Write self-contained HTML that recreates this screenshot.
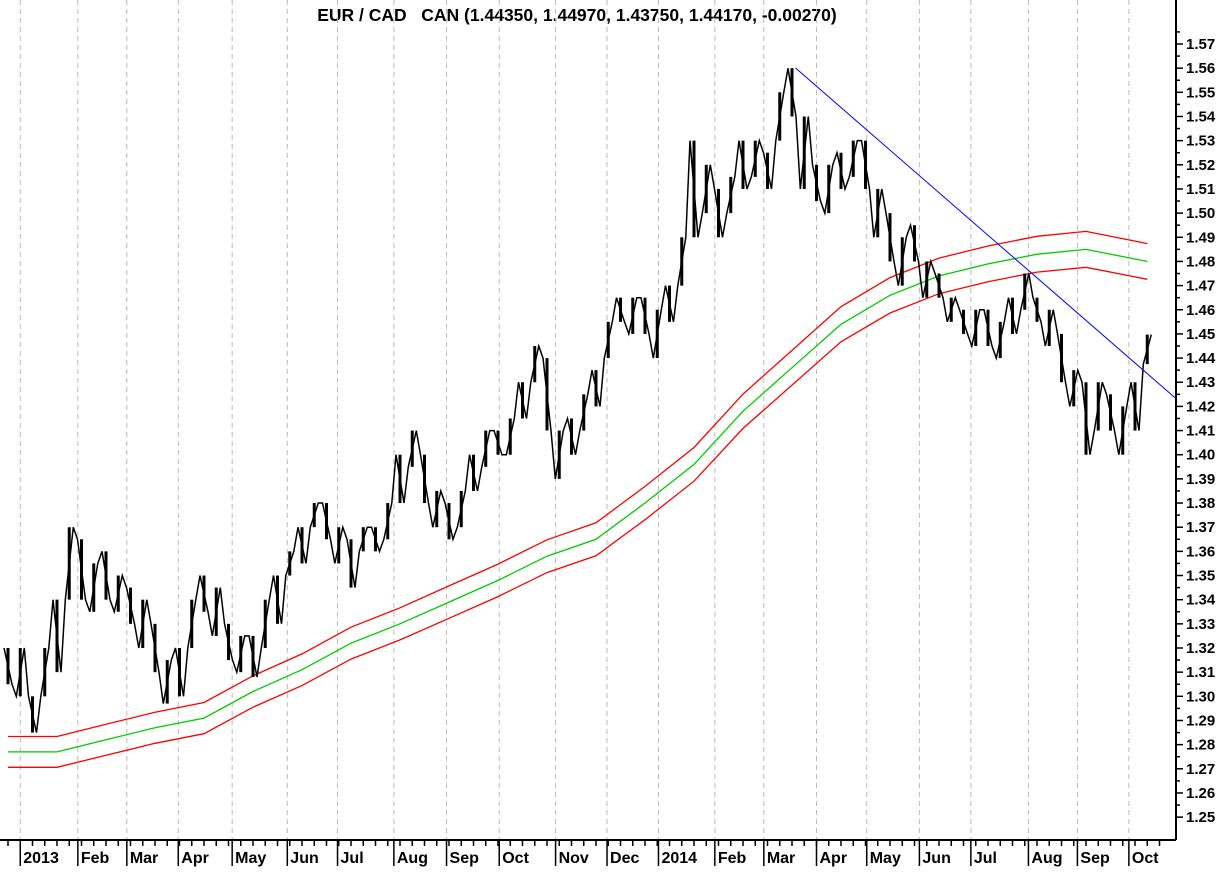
<!DOCTYPE html>
<html><head><meta charset="utf-8"><style>
html,body{margin:0;padding:0;background:#fff;}
svg{display:block;font-family:"Liberation Sans",Arial,sans-serif;font-weight:bold;}
</style></head><body>
<svg id="chart" width="1232" height="872" viewBox="0 0 1232 872" xmlns="http://www.w3.org/2000/svg">
<rect width="1232" height="872" fill="#fff"/>
<text x="577" y="21" font-size="17.5" text-anchor="middle" fill="#000" xml:space="preserve">EUR / CAD   CAN (1.44350, 1.44970, 1.43750, 1.44170, -0.00270)</text>
<g id="grid"></g><g id="ma"></g><g id="price"></g><g id="trend"></g><g id="axes"></g>
</svg>
<script>
const lows=[1.305,1.30,1.285,1.30,1.31,1.34,1.34,1.335,1.34,1.335,1.33,1.32,1.31,1.297,1.30,1.32,1.335,1.325,1.315,1.31,1.308,1.32,1.33,1.35,1.355,1.37,1.365,1.355,1.345,1.36,1.36,1.365,1.38,1.395,1.38,1.37,1.365,1.37,1.385,1.395,1.40,1.40,1.415,1.43,1.41,1.39,1.40,1.41,1.42,1.44,1.455,1.45,1.45,1.44,1.455,1.47,1.49,1.50,1.49,1.50,1.51,1.515,1.51,1.53,1.54,1.51,1.505,1.50,1.51,1.515,1.51,1.49,1.48,1.47,1.48,1.465,1.465,1.455,1.45,1.445,1.445,1.44,1.45,1.46,1.455,1.445,1.43,1.42,1.40,1.41,1.41,1.40,1.41,1.4375];
const highs=[1.32,1.32,1.30,1.32,1.34,1.37,1.365,1.355,1.36,1.35,1.345,1.34,1.33,1.315,1.32,1.34,1.35,1.345,1.33,1.325,1.325,1.34,1.35,1.36,1.37,1.38,1.38,1.37,1.365,1.37,1.37,1.38,1.40,1.41,1.40,1.385,1.38,1.385,1.40,1.41,1.41,1.415,1.43,1.445,1.44,1.41,1.415,1.425,1.435,1.455,1.465,1.465,1.465,1.46,1.47,1.49,1.53,1.52,1.51,1.515,1.53,1.53,1.525,1.55,1.56,1.54,1.52,1.52,1.525,1.53,1.53,1.51,1.50,1.49,1.495,1.48,1.475,1.465,1.46,1.46,1.46,1.455,1.465,1.475,1.465,1.46,1.45,1.435,1.43,1.43,1.425,1.42,1.43,1.4497];
const maWeeks=[0,4,8,12,16,20,24,28,32,36,40,44,48,52,56,60,64,68,72,76,80,84,88,92,93];
const maValues=[1.277,1.277,1.282,1.287,1.291,1.302,1.311,1.322,1.330,1.339,1.348,1.358,1.365,1.380,1.396,1.418,1.436,1.454,1.466,1.474,1.479,1.483,1.485,1.481,1.480];
const envelopePct=0.005;
const yTicks=[1.25,1.26,1.27,1.28,1.29,1.30,1.31,1.32,1.33,1.34,1.35,1.36,1.37,1.38,1.39,1.40,1.41,1.42,1.43,1.44,1.45,1.46,1.47,1.48,1.49,1.50,1.51,1.52,1.53,1.54,1.55,1.56,1.57];
const monthLabels=["2013","Feb","Mar","Apr","May","Jun","Jul","Aug","Sep","Oct","Nov","Dec","2014","Feb","Mar","Apr","May","Jun","Jul","Aug","Sep","Oct"];
const monthWeeks=[1,5.7,9.7,13.9,18.3,22.8,26.9,31.5,35.8,40.1,44.7,48.9,53.1,57.7,61.7,66,70.1,74.4,78.6,83.3,87.3,91.5];
const trendStart=[64.3,1.56], trendEnd=[95.4,1.423];
const NS="http://www.w3.org/2000/svg";
const X=w=>8+w*12.25;
const Y=v=>44+(1.57-v)*2416;
const AX=1176, AY=840;
function mk(tag,parent,attrs){const e=document.createElementNS(NS,tag);for(const k in attrs)e.setAttribute(k,attrs[k]);parent.appendChild(e);return e;}
const grid=document.getElementById('grid');
monthWeeks.forEach((w,i)=>{
 const l=mk('line',grid,{x1:X(w),x2:X(w),y1:0,y2:AY,stroke:'#bbb','stroke-dasharray':'5,4','stroke-width':1});
 
 
});
const ma=document.getElementById('ma');
function maPath(f){return maWeeks.map((w,i)=>(i?'L':'M')+X(w).toFixed(1)+','+Y(maValues[i]*f).toFixed(1)).join(' ');}
const up=mk('path',ma,{d:maPath(1+envelopePct),fill:'none',stroke:'#f00','stroke-width':1.3});


const mid=mk('path',ma,{d:maPath(1),fill:'none',stroke:'#0c0','stroke-width':1.3});


const lo=mk('path',ma,{d:maPath(1-envelopePct),fill:'none',stroke:'#f00','stroke-width':1.3});


const price=document.getElementById('price');
let zz='';
lows.forEach((l,i)=>{
 const b=mk('line',price,{x1:X(i),x2:X(i),y1:Y(highs[i]),y2:Y(l),stroke:'#000','stroke-width':3});
 
 
 zz+=(i?'L':'M')+(X(i)-4).toFixed(1)+','+Y(i%2?l:highs[i]).toFixed(1)+' L'+(X(i)+4).toFixed(1)+','+Y(i%2?highs[i]:l).toFixed(1)+' ';
});
const zp=mk('path',price,{d:zz,fill:'none',stroke:'#000','stroke-width':1.5});


const tr=mk('line',document.getElementById('trend'),{x1:X(trendStart[0]),y1:Y(trendStart[1]),x2:X(trendEnd[0]),y2:Y(trendEnd[1]),stroke:'#00f','stroke-width':1});


const axes=document.getElementById('axes');
const ya=mk('line',axes,{x1:AX,x2:AX,y1:0,y2:AY,stroke:'#000','stroke-width':2});


const xa=mk('line',axes,{x1:0,x2:AX,y1:AY,y2:AY,stroke:'#000','stroke-width':2});


yTicks.forEach(v=>{
 mk('line',axes,{x1:AX,x2:AX+7,y1:Y(v),y2:Y(v),stroke:'#000','stroke-width':1.5});
 mk('line',axes,{x1:AX,x2:AX+4,y1:Y(v+0.005),y2:Y(v+0.005),stroke:'#000','stroke-width':1.5});
 const t=mk('text',axes,{x:AX+10,y:Y(v)+5,'font-size':15,fill:'#000'});
 
 
 t.textContent=v.toFixed(2);
});
for(let w=0;w<=94;w++){mk('line',axes,{x1:X(w),x2:X(w),y1:AY,y2:AY+6,stroke:'#000','stroke-width':1.5});}
monthWeeks.forEach((w,i)=>{
 mk('line',axes,{x1:X(w),x2:X(w),y1:AY,y2:AY+26,stroke:'#000','stroke-width':1.5});
 const t=mk('text',axes,{x:X(w)+3,y:AY+23,'font-size':16,fill:'#000'});
 
 
 t.textContent=monthLabels[i];
});
</script>
</body></html>
